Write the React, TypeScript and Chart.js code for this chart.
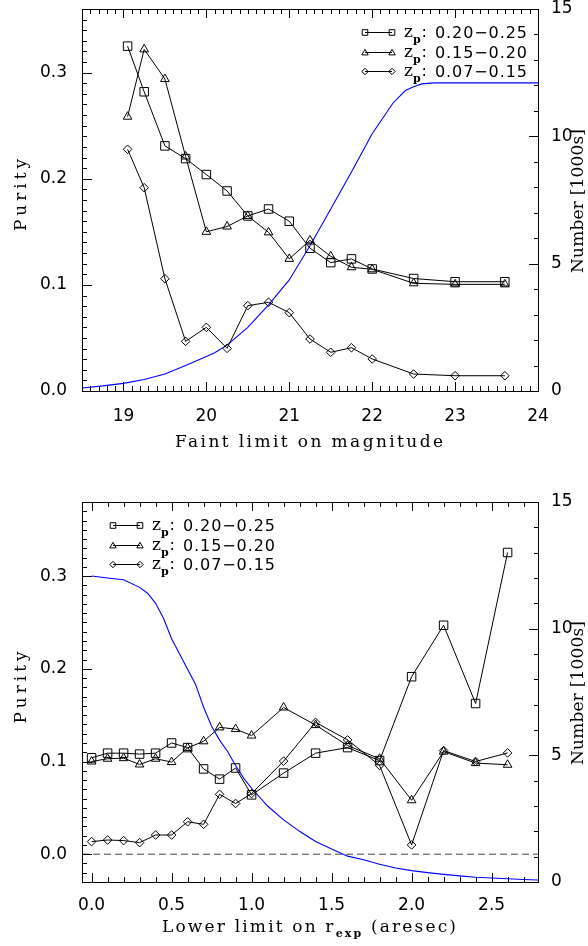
import React, { useEffect, useRef } from 'react';
import { Chart, registerables } from 'chart.js';

Chart.register(...registerables);

const SANS = '"DejaVu Sans", "Liberation Sans", sans-serif';
const SERIF = '"DejaVu Serif", "Liberation Serif", serif';

// ================= Top panel: faint limit on magnitude =================
const MAG_LIMIT = [19.05, 19.25, 19.5, 19.75, 20.0, 20.25, 20.5, 20.75, 21.0, 21.25, 21.5, 21.75, 22.0, 22.5, 23.0, 23.6];
const MAG_PURITY_Z020_025 = [0.325, 0.282, 0.231, 0.219, 0.204, 0.1885, 0.165, 0.1715, 0.160, 0.1345, 0.121, 0.1245, 0.115, 0.106, 0.103, 0.103];
const MAG_PURITY_Z015_020 = [0.2585, 0.322, 0.294, 0.221, 0.150, 0.155, 0.165, 0.1495, 0.1245, 0.142, 0.127, 0.1166, 0.1147, 0.1015, 0.1005, 0.1005];
const MAG_PURITY_Z007_015 = [0.2278, 0.1916, 0.1058, 0.0468, 0.060, 0.0402, 0.0804, 0.0836, 0.0738, 0.049, 0.0365, 0.0408, 0.0302, 0.016, 0.0144, 0.0144];
const MAG_COUNT_X = [18.5, 18.75, 19.0, 19.25, 19.5, 19.75, 20.0, 20.1, 20.25, 20.5, 20.75, 21.0, 21.25, 21.5, 21.75, 22.0, 22.25, 22.4, 22.5, 22.6, 22.75, 23.0, 24.0];
const MAG_COUNT_K = [0.12, 0.2, 0.3, 0.45, 0.67, 1.0, 1.35, 1.5, 1.8, 2.5, 3.38, 4.36, 5.7, 7.15, 8.6, 10.1, 11.3, 11.8, 11.95, 12.06, 12.1, 12.1, 12.1];
const MAG_RANGE = [18.5, 24];
const MAG_TICKS = [19, 20, 21, 22, 23, 24];
const PURITY_RANGE_TOP = [0, 0.36];

// ================= Bottom panel: lower limit on r_exp =================
const REXP_LIMIT = [0.0, 0.1, 0.2, 0.3, 0.4, 0.5, 0.6, 0.7, 0.8, 0.9, 1.0, 1.2, 1.4, 1.6, 1.8, 2.0, 2.2, 2.4, 2.6];
const REXP_PURITY_Z020_025 = [0.104, 0.109, 0.109, 0.108, 0.109, 0.120, 0.115, 0.092, 0.081, 0.093, 0.064, 0.0875, 0.109, 0.115, 0.101, 0.1915, 0.247, 0.1626, 0.3255];
const REXP_PURITY_Z015_020 = [0.100, 0.103, 0.1036, 0.0968, 0.103, 0.0994, 0.1147, 0.1218, 0.1368, 0.135, 0.128, 0.1583, 0.1393, 0.1172, 0.103, 0.0582, 0.1107, 0.0983, 0.0965];
const REXP_PURITY_Z007_015 = [0.0136, 0.0153, 0.0147, 0.0125, 0.0207, 0.0207, 0.035, 0.0322, 0.0646, 0.0547, 0.0654, 0.1004, 0.1422, 0.1233, 0.0957, 0.010, 0.1118, 0.100, 0.1093];
const REXP_COUNT_X = [0.0, 0.1, 0.2, 0.3, 0.35, 0.4, 0.45, 0.5, 0.55, 0.6, 0.65, 0.7, 0.75, 0.8, 0.85, 0.9, 0.95, 1.0, 1.1, 1.2, 1.3, 1.4, 1.5, 1.6, 1.7, 1.8, 1.9, 2.0, 2.1, 2.2, 2.3, 2.4, 2.5, 2.6, 2.7, 2.79];
const REXP_COUNT_K = [12.08, 12.0, 11.93, 11.63, 11.4, 11.0, 10.4, 9.6, 9.0, 8.4, 7.8, 6.9, 6.15, 5.6, 5.15, 4.6, 4.1, 3.7, 3.0, 2.45, 2.0, 1.6, 1.3, 1.02, 0.88, 0.7, 0.55, 0.45, 0.37, 0.3, 0.24, 0.19, 0.16, 0.13, 0.1, 0.08];
const REXP_RANGE = [-0.06, 2.79];
const REXP_TICKS = [0, 0.5, 1.0, 1.5, 2.0, 2.5];
const PURITY_RANGE_BOTTOM = [-0.03, 0.38];
const ZERO_LEVEL = [0, 0];

// ================= shared =================
const PURITY_TICKS = [0, 0.1, 0.2, 0.3];
const COUNT_RANGE = [0, 15];
const COUNT_TICKS = [0, 5, 10, 15];
const LEGEND_RANGES = ['0.20\u22120.25', '0.15\u22120.20', '0.07\u22120.15'];
const MARKERS = ['rect', 'triangle', 'rectRot'];

type Seg = { text: string; font: string; dy: number };

interface PanelCfg {
  xs: number[];
  series: number[][];
  curveX: number[];
  curveY: number[];
  xRange: number[];
  xTicks: number[];
  xMinor: number;
  xDecimals: number;
  yRange: number[];
  yMinor: number;
  padTop: number;
  xAxisH: number;
  xLabelPad: number;
  zeroLine: boolean;
  xTitle: Seg[];
  xTitleWidth: number;
  xTitleCx: number;
  xTitleDy: number;
  yTitleDy: number;
  legendX: number;
}

const TITLE_FONT = `17px ${SERIF}`;

const TOP: PanelCfg = {
  xs: MAG_LIMIT,
  series: [MAG_PURITY_Z020_025, MAG_PURITY_Z015_020, MAG_PURITY_Z007_015],
  curveX: MAG_COUNT_X,
  curveY: MAG_COUNT_K,
  xRange: MAG_RANGE,
  xTicks: MAG_TICKS,
  xMinor: 0.1,
  xDecimals: 0,
  yRange: PURITY_RANGE_TOP,
  yMinor: 0.01,
  padTop: 9,
  xAxisH: 82,
  xLabelPad: 7,
  zeroLine: false,
  xTitle: [{ text: 'Faint limit on magnitude', font: TITLE_FONT, dy: 0 }],
  xTitleWidth: 268,
  xTitleCx: 309,
  xTitleDy: 56,
  yTitleDy: -5,
  legendX: 365,
};

const BOTTOM: PanelCfg = {
  xs: REXP_LIMIT,
  series: [REXP_PURITY_Z020_025, REXP_PURITY_Z015_020, REXP_PURITY_Z007_015],
  curveX: REXP_COUNT_X,
  curveY: REXP_COUNT_K,
  xRange: REXP_RANGE,
  xTicks: REXP_TICKS,
  xMinor: 0.1,
  xDecimals: 1,
  yRange: PURITY_RANGE_BOTTOM,
  yMinor: 0.01,
  padTop: 29,
  xAxisH: 64,
  xLabelPad: 5,
  zeroLine: true,
  xTitle: [
    { text: 'Lower limit on r', font: TITLE_FONT, dy: 0 },
    { text: 'exp', font: `bold 11px ${SERIF}`, dy: 5 },
    { text: ' (aresec)', font: TITLE_FONT, dy: 0 },
  ],
  xTitleWidth: 294,
  xTitleCx: 309,
  xTitleDy: 50,
  yTitleDy: -4.5,
  legendX: 113,
};

function eachTick(min: number, max: number, step: number, fn: (v: number) => void) {
  const i0 = Math.ceil(min / step - 1e-6);
  const i1 = Math.floor(max / step + 1e-6);
  for (let i = i0; i <= i1; i++) fn(+(i * step).toFixed(6));
}
const isMajor = (v: number, majors: number[]) => majors.some((m) => Math.abs(m - v) < 1e-6);

function segsWidth(ctx: any, segs: Seg[], ls: number) {
  let w = 0;
  let n = 0;
  for (const s of segs) {
    ctx.font = s.font;
    ctx.letterSpacing = ls + 'px';
    w += ctx.measureText(s.text).width;
    n += [...s.text].length;
  }
  ctx.letterSpacing = '0px';
  return { w, n };
}

function drawFitted(ctx: any, segs: Seg[], cx: number, baseline: number, target: number) {
  const { w: w0, n } = segsWidth(ctx, segs, 0);
  const ls = (target - w0) / Math.max(n - 1, 1);
  let x = cx - target / 2;
  ctx.textAlign = 'left';
  for (const s of segs) {
    ctx.font = s.font;
    ctx.letterSpacing = ls + 'px';
    ctx.fillText(s.text, x, baseline + s.dy);
    x += ctx.measureText(s.text).width;
  }
  ctx.letterSpacing = '0px';
}

function drawMarker(ctx: CanvasRenderingContext2D, style: string, x: number, y: number) {
  ctx.beginPath();
  if (style === 'rect') {
    ctx.rect(x - 2.8, y - 2.8, 5.6, 5.6);
  } else if (style === 'triangle') {
    ctx.moveTo(x, y - 3.2);
    ctx.lineTo(x + 3.2, y + 2.4);
    ctx.lineTo(x - 3.2, y + 2.4);
    ctx.closePath();
  } else {
    ctx.moveTo(x, y - 3.2);
    ctx.lineTo(x + 3.2, y);
    ctx.lineTo(x, y + 3.2);
    ctx.lineTo(x - 3.2, y);
    ctx.closePath();
  }
  ctx.stroke();
}

function makeDecor(cfg: PanelCfg) {
  return {
    id: 'idlDecor',
    afterDraw(chart: any) {
      const ctx: any = chart.ctx;
      const { left, right, top, bottom } = chart.chartArea;
      const xs = chart.scales.x;
      const ys = chart.scales.y;
      const y2 = chart.scales.y2;
      ctx.save();
      ctx.strokeStyle = '#000';
      ctx.fillStyle = '#000';
      ctx.lineWidth = 1;
      ctx.setLineDash([]);
      // frame
      ctx.strokeRect(left + 0.5, top + 0.5, right - left, bottom - top);
      // ticks (inward, IDL style)
      ctx.beginPath();
      eachTick(xs.min, xs.max, cfg.xMinor, (v) => {
        const px = Math.round(xs.getPixelForValue(v)) + 0.5;
        const L = isMajor(v, cfg.xTicks) ? 9 : 5;
        ctx.moveTo(px, bottom);
        ctx.lineTo(px, bottom - L);
        ctx.moveTo(px, top);
        ctx.lineTo(px, top + L);
      });
      eachTick(ys.min, ys.max, cfg.yMinor, (v) => {
        const py = Math.round(ys.getPixelForValue(v)) + 0.5;
        const L = isMajor(v, PURITY_TICKS) ? 10 : 5;
        ctx.moveTo(left, py);
        ctx.lineTo(left + L, py);
      });
      eachTick(y2.min, y2.max, 1, (v) => {
        const py = Math.round(y2.getPixelForValue(v)) + 0.5;
        const L = isMajor(v, COUNT_TICKS) ? 10 : 5;
        ctx.moveTo(right + 1, py);
        ctx.lineTo(right + 1 - L, py);
      });
      ctx.stroke();

      // x title
      ctx.textBaseline = 'alphabetic';
      drawFitted(ctx, cfg.xTitle, cfg.xTitleCx, bottom + cfg.xTitleDy, cfg.xTitleWidth);

      // y titles (rotated)
      const cy = (top + bottom) / 2;
      ctx.save();
      ctx.translate(21.5, cy + cfg.yTitleDy);
      ctx.rotate(-Math.PI / 2);
      ctx.textBaseline = 'middle';
      drawFitted(ctx, [{ text: 'Purity', font: TITLE_FONT, dy: 0 }], 0, 0, 72);
      ctx.restore();
      ctx.save();
      ctx.translate(579, cy + 1);
      ctx.rotate(-Math.PI / 2);
      ctx.textBaseline = 'middle';
      drawFitted(ctx, [{ text: 'Number [1000s]', font: TITLE_FONT, dy: 0 }], 0, 0, 144);
      ctx.restore();

      // legend
      ctx.textBaseline = 'alphabetic';
      ctx.textAlign = 'left';
      const sets = chart.data.datasets.filter((d: any) => d.legendText);
      sets.forEach((d: any, i: number) => {
        const y = Math.round(top + 23 + i * 19.5) + 0.5;
        const x0 = cfg.legendX;
        const x1 = x0 + 27;
        ctx.beginPath();
        ctx.moveTo(x0, y);
        ctx.lineTo(x1, y);
        ctx.stroke();
        drawMarker(ctx, d.pointStyle, x0, y);
        drawMarker(ctx, d.pointStyle, x1, y);
        const zx = x0 + 39;
        ctx.font = `17px ${SERIF}`;
        ctx.fillText('z', zx, y + 4.5);
        ctx.font = `bold 11px ${SERIF}`;
        ctx.fillText('p', zx + 9, y + 10);
        ctx.font = `16px ${SANS}`;
        ctx.fillText(':', zx + 17.5, y + 4.5);
        drawFitted(ctx, [{ text: d.legendText, font: `16px ${SANS}`, dy: 0 }], x0 + 70 + 46, y + 5, 92);
      });
      ctx.restore();
    },
  };
}

function makeConfig(cfg: PanelCfg): any {
  const datasets: any[] = cfg.series.map((ys, i) => ({
    label: 'zp ' + LEGEND_RANGES[i],
    legendText: LEGEND_RANGES[i],
    data: cfg.xs.map((x, j) => ({ x, y: ys[j] })),
    yAxisID: 'y',
    borderColor: '#000',
    borderWidth: 1,
    pointStyle: MARKERS[i],
    pointRadius: [6, 5, 4.3][i],
    pointBorderColor: '#000',
    pointBackgroundColor: 'rgba(0,0,0,0)',
    pointBorderWidth: 1,
    tension: 0,
    fill: false,
  }));
  datasets.push({
    label: 'Number',
    data: cfg.curveX.map((x, j) => ({ x, y: cfg.curveY[j] })),
    yAxisID: 'y2',
    borderColor: '#0000ff',
    borderWidth: 1.1,
    pointRadius: 0,
    tension: 0,
    fill: false,
  });
  if (cfg.zeroLine) {
    datasets.push({
      label: 'zero',
      data: cfg.xRange.map((x, j) => ({ x, y: ZERO_LEVEL[j] })),
      yAxisID: 'y',
      borderColor: '#444',
      borderWidth: 1,
      borderDash: [7, 4],
      pointRadius: 0,
      fill: false,
    });
  }
  const tickFont = { family: SANS, size: 17 };
  return {
    type: 'line',
    data: { datasets },
    options: {
      animation: false,
      responsive: false,
      devicePixelRatio: 1,
      events: [],
      layout: { padding: { top: cfg.padTop, left: 0, right: 0, bottom: 0 } },
      plugins: { legend: { display: false }, tooltip: { enabled: false } },
      scales: {
        x: {
          type: 'linear',
          min: cfg.xRange[0],
          max: cfg.xRange[1],
          afterBuildTicks: (s: any) => {
            s.ticks = cfg.xTicks.map((v) => ({ value: v }));
          },
          afterFit: (s: any) => {
            s.height = cfg.xAxisH;
            s.paddingLeft = 0;
            s.paddingRight = 0;
          },
          grid: { display: false },
          border: { display: false },
          ticks: {
            font: tickFont,
            color: '#000',
            padding: cfg.xLabelPad,
            maxRotation: 0,
            minRotation: 0,
            autoSkip: false,
            callback: (v: any) => Number(v).toFixed(cfg.xDecimals),
          },
        },
        y: {
          type: 'linear',
          position: 'left',
          min: cfg.yRange[0],
          max: cfg.yRange[1],
          afterBuildTicks: (s: any) => {
            s.ticks = PURITY_TICKS.map((v) => ({ value: v }));
          },
          afterFit: (s: any) => {
            s.width = 82;
            s.paddingTop = 0;
            s.paddingBottom = 0;
          },
          grid: { display: false },
          border: { display: false },
          ticks: {
            font: tickFont,
            color: '#000',
            padding: 7,
            autoSkip: false,
            callback: (v: any) => Number(v).toFixed(1),
          },
        },
        y2: {
          type: 'linear',
          position: 'right',
          min: COUNT_RANGE[0],
          max: COUNT_RANGE[1],
          afterBuildTicks: (s: any) => {
            s.ticks = COUNT_TICKS.map((v) => ({ value: v }));
          },
          afterFit: (s: any) => {
            s.width = 50;
            s.paddingTop = 0;
            s.paddingBottom = 0;
          },
          grid: { display: false },
          border: { display: false },
          ticks: {
            font: tickFont,
            color: '#000',
            padding: 5,
            autoSkip: false,
            callback: (v: any) => Number(v).toFixed(0),
          },
        },
      },
    },
    plugins: [makeDecor(cfg)],
  };
}

function Panel({ cfg }: { cfg: PanelCfg }) {
  const ref = useRef<HTMLCanvasElement>(null);
  useEffect(() => {
    const chart = new Chart(ref.current as HTMLCanvasElement, makeConfig(cfg));
    return () => chart.destroy();
  }, [cfg]);
  return <canvas ref={ref} width={588} height={473} style={{ display: 'block', width: 588, height: 473 }} />;
}

export default function App() {
  return (
    <div style={{ position: 'fixed', left: 0, top: 0, width: 588, height: 946, background: '#fff' }}>
      <Panel cfg={TOP} />
      <Panel cfg={BOTTOM} />
    </div>
  );
}
